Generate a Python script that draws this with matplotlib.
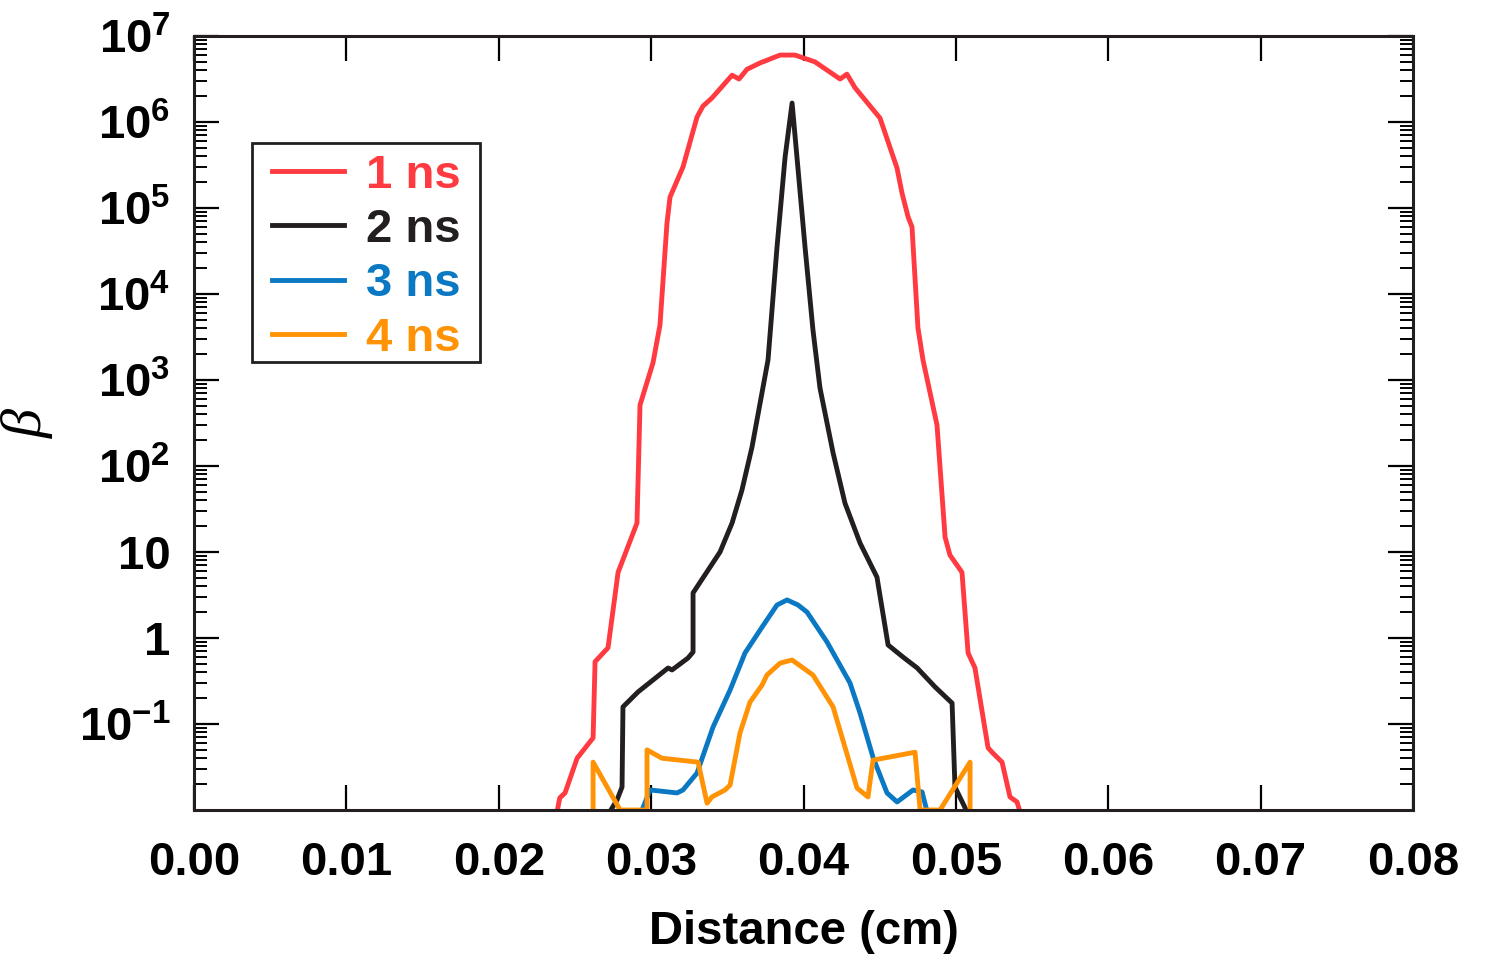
import matplotlib
matplotlib.use("Agg")
import matplotlib.pyplot as plt
from matplotlib.patches import Rectangle

plt.rcParams['font.family'] = ['Liberation Sans', 'DejaVu Sans']
plt.rcParams['font.weight'] = 'bold'
plt.rcParams['mathtext.fontset'] = 'custom'
plt.rcParams['mathtext.rm'] = 'Liberation Sans:bold'
plt.rcParams['mathtext.bf'] = 'Liberation Sans:bold'
plt.rcParams['mathtext.default'] = 'bf'

# beta profiles at 1 ns
x_1ns = [0.0238, 0.0240, 0.02435, 0.02514, 0.02619, 0.02632, 0.02717, 0.02783,
         0.02907, 0.02927, 0.03012, 0.03058, 0.03104, 0.03124, 0.03209, 0.03301,
         0.03340, 0.03399, 0.03531, 0.03577, 0.03629, 0.03714, 0.03846, 0.03944,
         0.04075, 0.04240, 0.04285, 0.04338, 0.04502, 0.04614, 0.04646, 0.04686,
         0.04712, 0.04751, 0.04784, 0.04876, 0.04929, 0.04961, 0.05040, 0.05080,
         0.05125, 0.05211, 0.05237, 0.05303, 0.05355, 0.05401, 0.05425]
y_1ns = [0.009, 0.0138, 0.0158, 0.040, 0.069, 0.53, 0.77, 5.8,
         21.7, 512, 1580, 4360, 6.7e4, 1.34e5, 3.0e5, 1.14e6,
         1.53e6, 1.9e6, 3.5e6, 3.16e6, 4.1e6, 4.85e6, 6.0e6, 6.0e6,
         5.0e6, 3.16e6, 3.6e6, 2.5e6, 1.11e6, 2.9e5, 1.5e5, 7.9e4,
         6.0e4, 4030, 1710, 300, 14.9, 9.2, 5.8, 0.67,
         0.45, 0.053, 0.047, 0.036, 0.0142, 0.0124, 0.009]

# 2 ns
x_2ns = [0.0272, 0.02776, 0.02809, 0.02815, 0.02914, 0.03111, 0.03137, 0.03242,
         0.03275, 0.03275, 0.03452, 0.03531, 0.03596, 0.03662, 0.03767, 0.03826,
         0.03879, 0.03925, 0.04010, 0.04062, 0.04108, 0.04194, 0.04272, 0.04371,
         0.04482, 0.04555, 0.04653, 0.04745, 0.04863, 0.04975, 0.04994, 0.05080]
y_2ns = [0.009, 0.0131, 0.0185, 0.158, 0.236, 0.448, 0.425, 0.585,
         0.687, 3.34, 10, 21.7, 52.6, 166, 1710, 3.5e4,
         3.9e5, 1.66e6, 3.5e4, 3810, 807, 142, 37, 12.7,
         5.1, 0.83, 0.60, 0.45, 0.27, 0.175, 0.0185, 0.009]

# 3 ns
x_3ns = [0.0293, 0.02993, 0.03170, 0.03209, 0.03301, 0.03406, 0.03518, 0.03616,
         0.03728, 0.03826, 0.03892, 0.03964, 0.04023, 0.04154, 0.04305, 0.04371,
         0.04456, 0.04548, 0.04614, 0.04719, 0.04778, 0.04815]
y_3ns = [0.009, 0.0171, 0.0158, 0.0171, 0.0269, 0.092, 0.248, 0.67,
         1.34, 2.42, 2.77, 2.42, 2.0, 0.90, 0.30, 0.134,
         0.041, 0.0158, 0.0124, 0.0171, 0.0162, 0.009]

# 4 ns (values under the axis floor sit on it)
x_4ns = [0.02619, 0.02619, 0.02796, 0.02973, 0.02973, 0.03071, 0.03308, 0.03367,
         0.03399, 0.03485, 0.03518, 0.03583, 0.03649, 0.03728, 0.03760, 0.03846,
         0.03925, 0.04062, 0.04194, 0.04351, 0.04423, 0.04456, 0.04732, 0.04765,
         0.04896, 0.05093, 0.05093]
y_4ns = [0.0100, 0.036, 0.0100, 0.0100, 0.050, 0.040, 0.036, 0.012,
         0.0142, 0.0171, 0.0195, 0.0786, 0.18, 0.284, 0.371, 0.51,
         0.555, 0.371, 0.158, 0.018, 0.0142, 0.038, 0.047, 0.0100,
         0.0100, 0.036, 0.0100]

series = [
    (x_1ns, y_1ns, '1 ns', '#ff3a40'),
    (x_2ns, y_2ns, '2 ns', '#231f20'),
    (x_3ns, y_3ns, '3 ns', '#0a78c2'),
    (x_4ns, y_4ns, '4 ns', '#ff9305'),
]

ytick_vals = [1e7, 1e6, 1e5, 1e4, 1e3, 1e2, 10, 1, 0.1]
ytick_labels = ['$10^{7}$', '$10^{6}$', '$10^{5}$', '$10^{4}$', '$10^{3}$',
                '$10^{2}$', '10', '1', '$10^{-1}$']
xtick_vals = [0.00, 0.01, 0.02, 0.03, 0.04, 0.05, 0.06, 0.07, 0.08]

fig = plt.figure(figsize=(14.88, 9.57), dpi=100)
ax = fig.add_axes([0.1304, 0.1536, 0.8192, 0.8088])

for xs, ys, name, col in series:
    ax.plot(xs, ys, color=col, lw=3.5, label=name)

ax.set_yscale('log')
ax.set_xlim(0, 0.08)
ax.set_ylim(0.01, 1e7)
ax.set_xticks(xtick_vals)
ax.set_xticklabels(['%.2f' % v for v in xtick_vals])
ax.set_yticks(ytick_vals)
ax.set_yticklabels(ytick_labels)
ax.yaxis.set_minor_locator(matplotlib.ticker.LogLocator(base=10, subs=range(2, 10), numticks=30))
ax.yaxis.set_minor_formatter(matplotlib.ticker.NullFormatter())

ax.tick_params(axis='both', which='major', direction='in', length=18, width=1.6,
               labelsize=34, top=True, right=True)
ax.tick_params(axis='y', which='minor', direction='in', length=9.5, width=1.4,
               right=True)
ax.tick_params(axis='x', pad=22)
ax.tick_params(axis='y', pad=17)
for s in ax.spines.values():
    s.set_linewidth(2.2)
    s.set_color('#231f20')

ax.set_xlabel('Distance (cm)', fontsize=34, fontweight='bold', labelpad=18)
ax.set_ylabel('β', fontsize=42, labelpad=18, family='Liberation Serif',
              style='italic', fontweight='normal')

# legend entries without their own frame; the box is drawn separately
leg = ax.legend(loc='upper left', bbox_to_anchor=(0.064, 0.848), borderaxespad=0,
                fontsize=34, labelcolor='linecolor', frameon=False,
                handlelength=1.53, handletextpad=0.47, labelspacing=0.22,
                borderpad=0)
box = Rectangle((0.0476, 0.5788), 0.187, 0.283, transform=ax.transAxes,
                fill=True, facecolor='white', edgecolor='#231f20', lw=2.0,
                zorder=4)
ax.add_patch(box)
leg.set_zorder(5)

fig.savefig('out.png', dpi=100)
